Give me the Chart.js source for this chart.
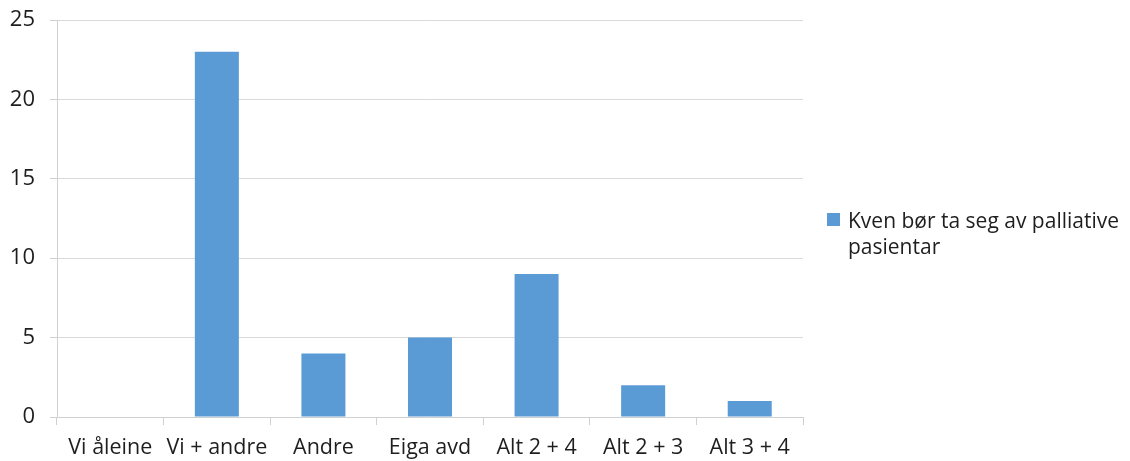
<!DOCTYPE html>
<html><head><meta charset="utf-8">
<script src="https://cdn.jsdelivr.net/npm/chart.js@4/dist/chart.umd.min.js"></script>
<style>html,body{margin:0;padding:0;background:#fff}#w{width:1130px;height:461px;position:relative}</style>
</head><body><div id="w"><canvas id="c"></canvas></div>
<script>
const categories = ["Vi åleine", "Vi + andre", "Andre", "Eiga avd", "Alt 2 + 4", "Alt 2 + 3", "Alt 3 + 4"];
const seriesName = "Kven bør ta seg av palliative pasientar";
const values = [0, 23, 4, 5, 9, 2, 1];
const yTicks = [0, 5, 10, 15, 20, 25];

const FONT = "'Open Sans', sans-serif";
const TEXT = '#1e1e1e';
const legendPlugin = {
  id: 'sideLegend',
  afterDraw(chart) {
    const ctx = chart.ctx;
    const ds = chart.data.datasets[0];
    ctx.save();
    ctx.fillStyle = ds.backgroundColor;
    ctx.fillRect(827, 213, 13, 13);
    ctx.fillStyle = TEXT;
    ctx.font = "21px " + FONT;
    ctx.textBaseline = 'alphabetic';
    ctx.textAlign = 'left';
    const words = ds.label.split(' ');
    const line1 = words.slice(0, 6).join(' ');
    const line2 = words.slice(6).join(' ');
    ctx.fillText(line1, 848, 228);
    ctx.fillText(line2, 848, 254);
    ctx.restore();
  }
};

new Chart(document.getElementById('c'), {
  type: 'bar',
  data: {
    labels: categories,
    datasets: [{
      label: seriesName,
      data: values,
      backgroundColor: '#5b9bd5',
      barPercentage: 0.413,
      categoryPercentage: 1.0
    }]
  },
  options: {
    responsive: true,
    maintainAspectRatio: false,
    animation: false,
    layout: { padding: { top: 20, right: 327, left: 0, bottom: 0 } },
    plugins: { legend: { display: false }, tooltip: { enabled: false } },
    scales: {
      x: {
        offset: true,
        grid: { offset: true, drawOnChartArea: false, tickLength: 8, color: '#d0d0d0', tickColor: '#d0d0d0' },
        border: { color: '#d0d0d0' },
        ticks: { color: TEXT, font: { family: FONT, size: 21.5 }, padding: 10, maxRotation: 0, autoSkip: false },
        afterFit(s) { s.height = 44; s.paddingLeft = 0; s.paddingRight = 0; }
      },
      y: {
        min: 0, max: 25,
        afterBuildTicks(s) { s.ticks = yTicks.map(v => ({ value: v })); },
        grid: { color: '#d9d9d9', tickLength: 7, tickColor: '#d0d0d0' },
        border: { color: '#d0d0d0' },
        ticks: { color: TEXT, font: { family: FONT, size: 22 }, padding: 15 },
        afterFit(s) { s.width = 57; s.paddingTop = 0; s.paddingBottom = 0; }
      }
    }
  },
  plugins: [legendPlugin]
});
</script></body></html>
